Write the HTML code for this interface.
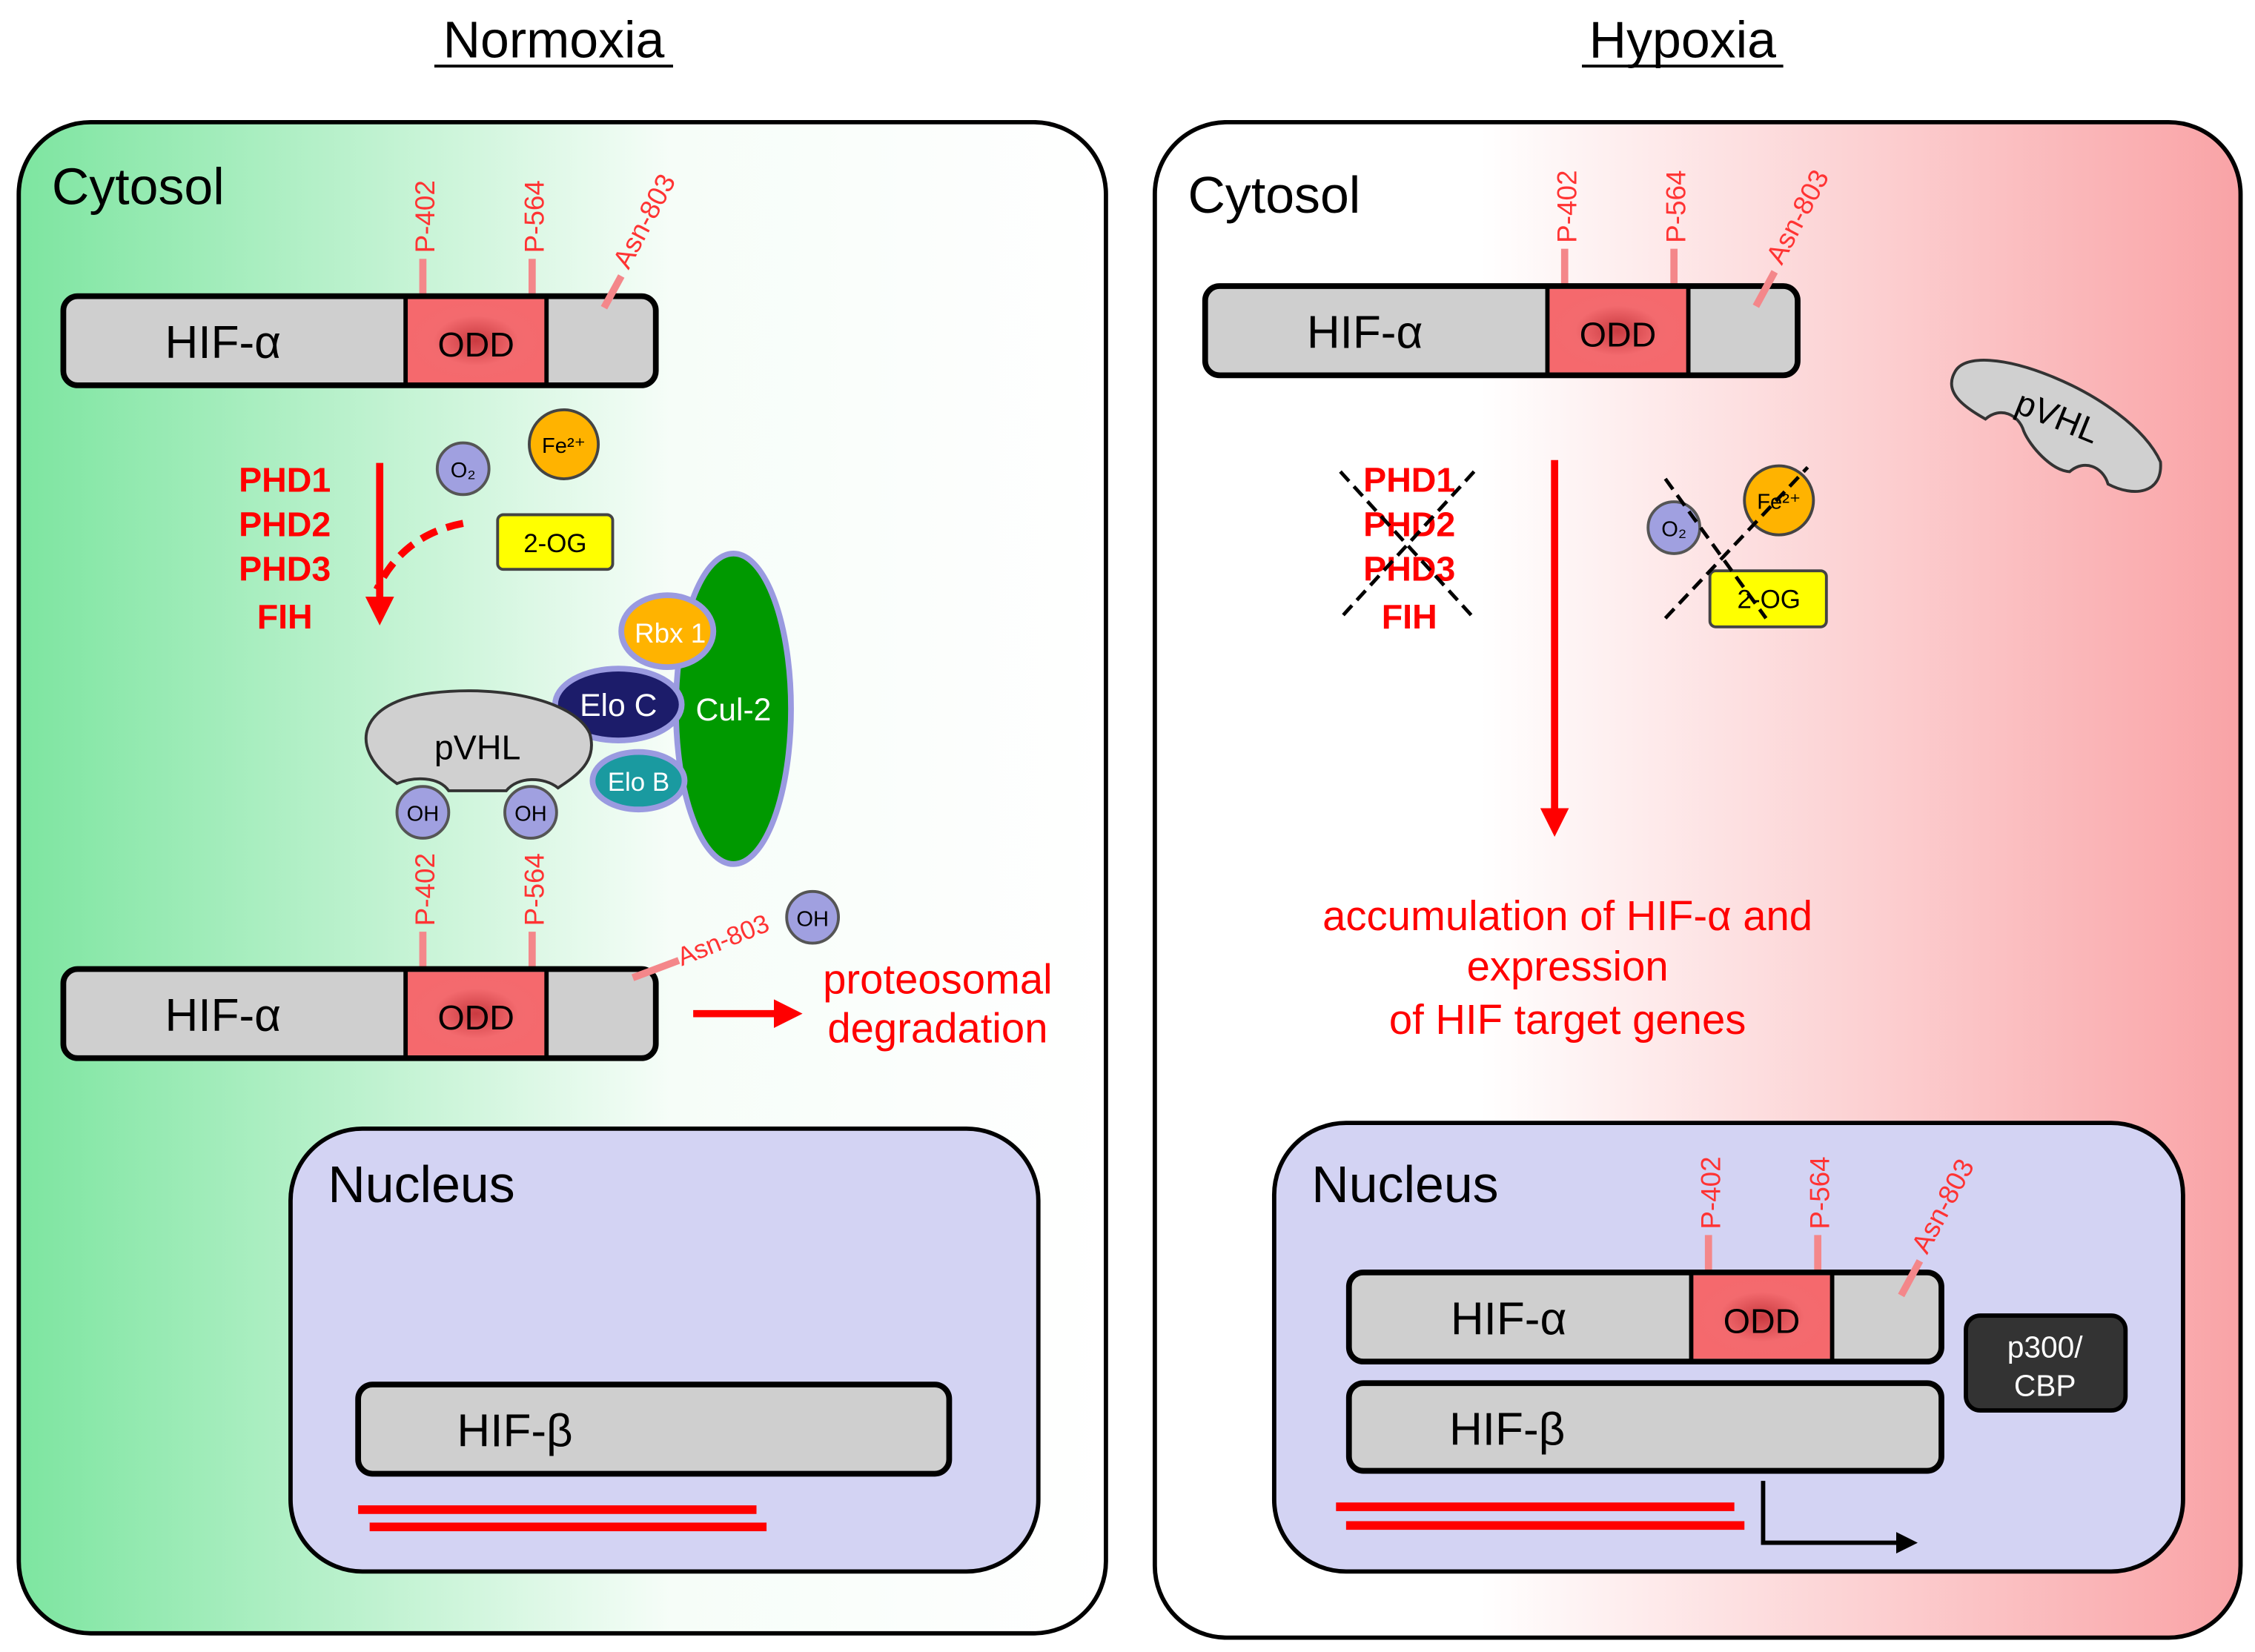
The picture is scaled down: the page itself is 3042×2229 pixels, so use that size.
<!DOCTYPE html>
<html><head><meta charset="utf-8"><style>html,body{margin:0;padding:0;background:#fff}svg{display:block}text{font-family:"Liberation Sans",sans-serif}</style></head>
<body>
<svg width="3042" height="2229" viewBox="0 0 1568 1149" xmlns="http://www.w3.org/2000/svg">
<defs>
<linearGradient id="gl" x1="0" x2="1" y1="0" y2="0"><stop offset="0" stop-color="#7de5a0"/><stop offset="0.6" stop-color="#f6fdf8"/><stop offset="1" stop-color="#fff"/></linearGradient>
<linearGradient id="gr" x1="0" x2="1" y1="0" y2="0"><stop offset="0" stop-color="#fff"/><stop offset="0.3" stop-color="#fff"/><stop offset="1" stop-color="#f9a3a6"/></linearGradient>
<radialGradient id="odd"><stop offset="0" stop-color="#c93a40"/><stop offset="0.6" stop-color="#f36a6e"/><stop offset="1" stop-color="#f5696d"/></radialGradient>
<marker id="ar" viewBox="0 0 10 10" refX="5" refY="5" markerWidth="4" markerHeight="4" orient="auto"><path d="M0,0L10,5L0,10z" fill="#f00"/></marker>
<marker id="ab" viewBox="0 0 10 10" refX="5" refY="5" markerWidth="5" markerHeight="5" orient="auto"><path d="M0,0L10,5L0,10z" fill="#000"/></marker>
<g id="hif">
<rect x="0" y="0" width="412" height="62" rx="10" fill="#cfcfcf" stroke="#000" stroke-width="4"/>
<rect x="238" y="2" width="98" height="58" fill="url(#odd)"/>
<line x1="238" y1="0" x2="238" y2="62" stroke="#000" stroke-width="3"/><line x1="336" y1="0" x2="336" y2="62" stroke="#000" stroke-width="3"/>
<text x="111" y="43" font-size="32" text-anchor="middle">HIF-α</text>
<text x="287" y="42" font-size="24" text-anchor="middle">ODD</text>
</g>
<g id="ticks">
<line x1="250" y1="-26" x2="250" y2="2" stroke="#f4878a" stroke-width="5"/>
<line x1="326" y1="-26" x2="326" y2="2" stroke="#f4878a" stroke-width="5"/>
<text transform="translate(258,-30) rotate(-90)" font-size="19" fill="#f33">P-402</text>
<text transform="translate(334,-30) rotate(-90)" font-size="19" fill="#f33">P-564</text>
</g>
</defs>
<rect width="1568" height="1149" fill="#fff"/>
<text x="385" y="40" font-size="36" text-anchor="middle">Normoxia</text><line x1="302" y1="46" x2="468" y2="46" stroke="#000" stroke-width="2"/>
<text x="1170" y="40" font-size="36" text-anchor="middle">Hypoxia</text><line x1="1100" y1="46" x2="1240" y2="46" stroke="#000" stroke-width="2"/>

<rect x="13" y="85" width="756" height="1051" rx="50" fill="url(#gl)" stroke="#000" stroke-width="3"/>
<rect x="803" y="85" width="755" height="1054" rx="50" fill="url(#gr)" stroke="#000" stroke-width="3"/>
<text x="36" y="142" font-size="36">Cytosol</text>
<text x="826" y="148" font-size="36">Cytosol</text>

<!-- left top hif -->
<g transform="translate(44,206)"><use href="#ticks"/><use href="#hif"/>
<line x1="376" y1="8" x2="388" y2="-14" stroke="#f4878a" stroke-width="5"/>
<text transform="translate(393,-18) rotate(-62)" font-size="19" fill="#f33">Asn-803</text></g>

<g font-weight="bold" font-size="24" fill="#f00" text-anchor="middle"><text x="198" y="342">PHD1</text><text x="198" y="373">PHD2</text><text x="198" y="404">PHD3</text><text x="198" y="437">FIH</text></g>
<line x1="264" y1="322" x2="264" y2="425" stroke="#f00" stroke-width="5" marker-end="url(#ar)"/>
<path d="M322,364 Q280,372 262,410" fill="none" stroke="#f00" stroke-width="5" stroke-dasharray="12,7"/>
<circle cx="322" cy="326" r="18" fill="#a0a0e0" stroke="#555" stroke-width="2"/><text x="322" y="332" font-size="15" text-anchor="middle">O₂</text>
<circle cx="392" cy="309" r="24" fill="#ffb300" stroke="#444" stroke-width="2"/><text x="392" y="315" font-size="15" text-anchor="middle">Fe²⁺</text>
<rect x="346" y="358" width="80" height="38" rx="4" fill="#ff0" stroke="#444" stroke-width="2"/><text x="386" y="384" font-size="18" text-anchor="middle">2-OG</text>

<ellipse cx="510" cy="493" rx="40" ry="108" fill="#009900" stroke="#9a9ae0" stroke-width="4"/>
<text x="510" y="501" font-size="22" fill="#fff" text-anchor="middle">Cul-2</text>
<ellipse cx="464" cy="439" rx="32" ry="25" fill="#ffb300" stroke="#9a9ae0" stroke-width="4"/><text x="466" y="447" font-size="19" fill="#fff" text-anchor="middle">Rbx 1</text>
<ellipse cx="430" cy="490" rx="44" ry="25" fill="#1c1c6a" stroke="#9a9ae0" stroke-width="4"/><text x="430" y="498" font-size="22" fill="#fff" text-anchor="middle">Elo C</text>
<ellipse cx="444" cy="543" rx="32" ry="20" fill="#1a9aa0" stroke="#9a9ae0" stroke-width="4"/><text x="444" y="550" font-size="18" fill="#fff" text-anchor="middle">Elo B</text>
<path d="M276,545 C240,520 250,488 300,482 C350,476 400,488 410,510 C416,530 400,540 388,548 C378,540 360,540 352,550 L312,550 C305,540 288,540 276,545 Z" fill="#d0d0d0" stroke="#333" stroke-width="2"/>
<text x="332" y="528" font-size="24" text-anchor="middle">pVHL</text>
<circle cx="294" cy="565" r="18" fill="#a0a0e0" stroke="#555" stroke-width="2"/><text x="294" y="571" font-size="15" text-anchor="middle">OH</text>
<circle cx="369" cy="565" r="18" fill="#a0a0e0" stroke="#555" stroke-width="2"/><text x="369" y="571" font-size="15" text-anchor="middle">OH</text>

<g transform="translate(44,674)"><use href="#ticks"/><use href="#hif"/>
<line x1="396" y1="6" x2="428" y2="-6" stroke="#f4878a" stroke-width="5"/>
<text transform="translate(430,-2) rotate(-22)" font-size="18" fill="#f33">Asn-803</text></g>
<circle cx="565" cy="638" r="18" fill="#a0a0e0" stroke="#555" stroke-width="2"/><text x="565" y="644" font-size="15" text-anchor="middle">OH</text>
<line x1="482" y1="705" x2="548" y2="705" stroke="#f00" stroke-width="5" marker-end="url(#ar)"/>
<text x="652" y="691" font-size="29" fill="#f00" text-anchor="middle">proteosomal</text>
<text x="652" y="725" font-size="29" fill="#f00" text-anchor="middle">degradation</text>

<rect x="202" y="785" width="520" height="308" rx="50" fill="#d3d3f3" stroke="#000" stroke-width="3"/>
<text x="228" y="836" font-size="36">Nucleus</text>
<rect x="249" y="963" width="411" height="62" rx="10" fill="#cfcfcf" stroke="#000" stroke-width="4"/>
<text x="358" y="1006" font-size="32" text-anchor="middle">HIF-β</text>
<rect x="249" y="1047" width="277" height="6" fill="#f00"/><rect x="257" y="1059" width="276" height="6" fill="#f00"/>

<!-- right -->
<g transform="translate(838,199)"><use href="#ticks"/><use href="#hif"/>
<line x1="383" y1="14" x2="396" y2="-10" stroke="#f4878a" stroke-width="5"/>
<text transform="translate(401,-14) rotate(-62)" font-size="19" fill="#f33">Asn-803</text></g>
<g transform="translate(1430,292) rotate(22)"><path d="M-78,-4 C-76,-34 40,-36 78,0 C88,20 70,30 50,28 C42,18 28,18 22,30 C10,34 -10,24 -18,16 C-26,6 -40,6 -46,18 C-62,16 -80,12 -78,-4 Z" fill="#d0d0d0" stroke="#333" stroke-width="2"/>
<text x="0" y="6" font-size="24" text-anchor="middle">pVHL</text></g>
<g font-weight="bold" font-size="24" fill="#f00" text-anchor="middle"><text x="980" y="342">PHD1</text><text x="980" y="373">PHD2</text><text x="980" y="404">PHD3</text><text x="980" y="437">FIH</text></g>
<g stroke="#000" stroke-width="2.5" stroke-dasharray="9,5"><line x1="932" y1="328" x2="1025" y2="430"/><line x1="1025" y1="328" x2="932" y2="430"/></g>
<line x1="1081" y1="320" x2="1081" y2="572" stroke="#f00" stroke-width="5" marker-end="url(#ar)"/>
<circle cx="1164" cy="367" r="18" fill="#a0a0e0" stroke="#555" stroke-width="2"/><text x="1164" y="373" font-size="15" text-anchor="middle">O₂</text>
<circle cx="1237" cy="348" r="24" fill="#ffb300" stroke="#444" stroke-width="2"/><text x="1237" y="354" font-size="15" text-anchor="middle">Fe²⁺</text>
<rect x="1189" y="397" width="81" height="39" rx="4" fill="#ff0" stroke="#444" stroke-width="2"/><text x="1230" y="423" font-size="18" text-anchor="middle">2-OG</text>
<g stroke="#000" stroke-width="2.5" stroke-dasharray="9,5"><line x1="1158" y1="333" x2="1228" y2="430"/><line x1="1158" y1="430" x2="1257" y2="325"/></g>
<g font-size="29" fill="#f00" text-anchor="middle"><text x="1090" y="647">accumulation of HIF-α and</text><text x="1090" y="682">expression</text><text x="1090" y="719">of HIF target genes</text></g>

<rect x="886" y="781" width="632" height="312" rx="50" fill="#d3d3f3" stroke="#000" stroke-width="3"/>
<text x="912" y="836" font-size="36">Nucleus</text>
<g transform="translate(938,885)"><use href="#ticks"/><use href="#hif"/>
<line x1="384" y1="16" x2="397" y2="-8" stroke="#f4878a" stroke-width="5"/>
<text transform="translate(402,-12) rotate(-62)" font-size="19" fill="#f33">Asn-803</text></g>
<rect x="938" y="962" width="412" height="61" rx="10" fill="#cfcfcf" stroke="#000" stroke-width="4"/>
<text x="1048" y="1005" font-size="32" text-anchor="middle">HIF-β</text>
<rect x="1367" y="915" width="111" height="66" rx="10" fill="#333" stroke="#000" stroke-width="3"/>
<text x="1422" y="944" font-size="21" fill="#fff" text-anchor="middle">p300/</text><text x="1422" y="971" font-size="21" fill="#fff" text-anchor="middle">CBP</text>
<rect x="929" y="1045" width="277" height="6" fill="#f00"/><rect x="936" y="1058" width="277" height="6" fill="#f00"/>
<path d="M1226,1030 L1226,1073 L1326,1073" fill="none" stroke="#000" stroke-width="3" marker-end="url(#ab)"/>
</svg>
</body></html>
